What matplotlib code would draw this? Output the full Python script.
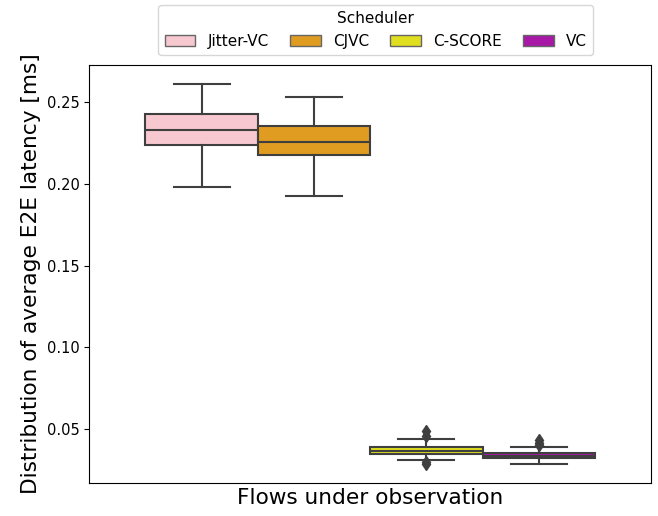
import colorsys
import numpy as np
from matplotlib import pyplot as plt
from matplotlib.colors import to_rgb
from matplotlib.patches import Patch

# box statistics (ms)
schedulers = ["Jitter-VC", "CJVC", "C-SCORE", "VC"]
base_colors = ["pink", "orange", "yellow", "m"]
whislo = [0.1977, 0.1922, 0.0312, 0.0288]
q1 = [0.2236, 0.2175, 0.0347, 0.0322]
med = [0.2325, 0.2256, 0.0369, 0.0340]
q3 = [0.2423, 0.2352, 0.0392, 0.0357]
whishi = [0.2610, 0.2529, 0.0439, 0.0393]
fliers = [[], [], [0.0487, 0.0462, 0.0300, 0.0288], [0.0436, 0.0418, 0.0402]]


def desaturate(color, prop=0.75):
    h, l, s = colorsys.rgb_to_hls(*to_rgb(color))
    return colorsys.hls_to_rgb(h, l, s * prop)


colors = [desaturate(c) for c in base_colors]
edge = "#3f3f3f"

fig = plt.figure(figsize=(6.58, 5.16), dpi=100)
ax = fig.add_axes([0.1357, 0.0645, 0.9894 - 0.1357, 0.8746 - 0.0645])

n = len(schedulers)
width = 0.8 / n
positions = [-0.4 + width * (i + 0.5) for i in range(n)]

stats = []
for i in range(n):
    stats.append(dict(med=med[i], q1=q1[i], q3=q3[i], whislo=whislo[i],
                      whishi=whishi[i], fliers=np.array(fliers[i])))

bp = ax.bxp(stats, positions=positions, widths=width, patch_artist=True,
            boxprops=dict(edgecolor=edge, linewidth=1.5),
            medianprops=dict(color=edge, linewidth=1.5),
            whiskerprops=dict(color=edge, linewidth=1.5),
            capprops=dict(color=edge, linewidth=1.5),
            flierprops=dict(marker="d", markerfacecolor=edge,
                            markeredgecolor=edge, markersize=6))
for box, c in zip(bp["boxes"], colors):
    box.set_facecolor(c)

ax.set_xlim(-0.5, 0.5)
ax.set_ylim(0.0174, 0.2726)
ax.set_xticks([])
ax.set_yticks([0.05, 0.10, 0.15, 0.20, 0.25])
ax.tick_params(axis="y", labelsize=10.5)
ax.set_xlabel("Flows under observation", fontsize=15.6)
ax.set_ylabel("Distribution of average E2E latency [ms]", fontsize=15.6)

handles = [Patch(facecolor=c, edgecolor="#666666", linewidth=1.0) for c in colors]
ax.legend(handles, schedulers, title="Scheduler", ncol=4, loc="lower center",
          bbox_to_anchor=(0.51, 1.005), fontsize=11, title_fontsize=11,
          columnspacing=1.4)

fig.savefig("out.png", dpi=100)
